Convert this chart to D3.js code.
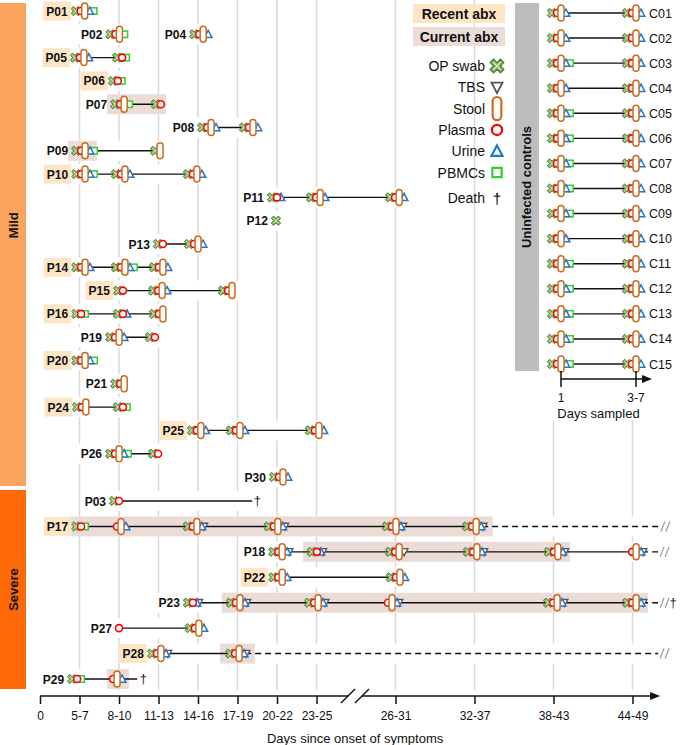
<!DOCTYPE html>
<html><head><meta charset="utf-8">
<script src="https://cdn.jsdelivr.net/npm/d3@7"></script>
<style>body{margin:0;background:#fff}svg{display:block;font-family:Arial,"Liberation Sans",sans-serif}</style>
</head><body>
<svg id="c" width="685" height="745"></svg>
<script>
// ---------- DATA ----------
const binLabels = ["0","5-7","8-10","11-13","14-16","17-19","20-22","23-25","26-31","32-37","38-43","44-49"];
const binPositions = [0,1,2,3,4,5,6,7,9,11,13,15];
const patientIds = ["P01","P02","P04","P05","P06","P07","P08","P09","P10","P11","P12","P13","P14","P15","P16","P19","P20","P21","P24","P25","P26","P30","P03","P17","P18","P22","P23","P27","P28","P29"];
const patientRows = [0,1,1,2,3,4,5,6,7,8,9,10,11,12,13,14,15,16,17,18,19,20,21,22,23,24,25,26,27,28];
const recentAbx = ["P01","P05","P06","P10","P14","P15","P16","P20","P24","P25","P17","P22","P28"];
// [patient, position on day axis, samples: O=OP swab P=plasma S=stool U=urine T=TBS B=PBMCs]
const samples = [
 ["P01",1.03,"OPSUB"],
 ["P02",1.91,"OPSB"],
 ["P04",4.03,"OPSU"],
 ["P05",1.01,"OPSU"],["P05",2.08,"OPB"],
 ["P06",1.97,"OPB"],
 ["P07",2.03,"OPSB"],["P07",3.06,"OP"],
 ["P08",4.23,"OPSU"],["P08",5.29,"OPSU"],
 ["P09",1.04,"OPSUB"],["P09",3.04,"OS"],
 ["P10",1.04,"OPSUB"],["P10",2.05,"OPSU"],["P10",3.87,"OPSU"],
 ["P11",6.0,"OPU"],["P11",6.99,"OPSU"],["P11",8.99,"OPSU"],
 ["P12",6.1,"O"],
 ["P13",3.11,"OP"],["P13",3.9,"OPSU"],
 ["P14",1.04,"OPSU"],["P14",2.05,"OPSUB"],["P14",3.01,"OPSU"],
 ["P15",2.1,"OP"],["P15",2.99,"OPSU"],["P15",4.76,"OPS"],
 ["P16",1.04,"OPB"],["P16",2.1,"OPU"],["P16",3.01,"OPS"],
 ["P19",1.9,"OPSU"],["P19",2.91,"OP"],
 ["P20",1.04,"OPSUB"],
 ["P21",2.03,"OPS"],
 ["P24",1.06,"OPS"],["P24",2.1,"OPB"],
 ["P25",3.97,"OPSU"],["P25",4.96,"OPSU"],["P25",6.96,"OPSU"],
 ["P26",1.9,"OPSUB"],["P26",2.99,"OP"],
 ["P30",6.05,"OPSU"],
 ["P03",2.0,"OP"],
 ["P17",1.04,"OPB"],["P17",1.95,"PSU"],["P17",3.87,"OPSUT"],["P17",5.92,"OPSUT"],["P17",8.91,"OPSUT"],["P17",10.94,"OPSUT"],
 ["P18",6.03,"OPSUT"],["P18",7.01,"OPUT"],["P18",8.99,"OPST"],["P18",10.96,"OPSUT"],["P18",13.01,"OPSUT"],["P18",14.99,"PSUT"],
 ["P22",6.03,"OPSU"],["P22",9.01,"OPSU"],
 ["P23",3.87,"OPUT"],["P23",4.96,"OPSUT"],["P23",6.94,"OPSUT"],["P23",8.81,"PSUT"],["P23",12.99,"OPSUT"],["P23",14.99,"OPSUT"],
 ["P27",2.0,"P"],["P27",3.92,"OPSU"],
 ["P28",2.96,"OPSUT"],["P28",4.94,"OPSUT"],
 ["P29",0.94,"OPB"],["P29",1.85,"PSU"]
];
const currentAbx = [["P07",1.70,3.19],["P09",0.71,1.44],["P17",0.75,11.46],["P18",6.66,13.42],["P23",4.6,15.39],["P28",4.56,5.44],["P29",1.70,2.25]];
const dashedTo = [["P17",15.65],["P18",15.65],["P23",15.65],["P28",15.65]];
const breakAt = [["P17",15.82],["P18",15.8],["P23",15.8],["P28",15.8]];
const solidTo = [["P03",5.37],["P29",2.46]];
const deaths = [["P03",5.5],["P29",2.62],["P23",16.03]];
const groups = [["Mild",0,20],["Severe",21,28]];
const controlIds = ["C01","C02","C03","C04","C05","C06","C07","C08","C09","C10","C11","C12","C13","C14","C15"];
const controlDays = ["1","3-7"];
const controlFirst = ["OPSU","OPSU","OPSUB","OPSU","OPSUB","OPSUB","OPSUB","OPSUB","OPSUB","OPSU","OPSUB","OPSUB","OPSUB","OPSUB","OPSUB"];
const controlSecond = ["OPSU","OPSU","OPSU","OPSU","OPSU","OPSU","OPSU","OPSU","OPSU","OPSU","OPSU","OPSU","OPSU","OPSU","OPSU"];
const legendItems = [["OP swab","O"],["TBS","T"],["Stool","S"],["Plasma","P"],["Urine","U"],["PBMCs","B"],["Death","D"]];
const abxLegend = ["Recent abx","Current abx"];

// ---------- STYLE ----------
const C = {mild:"#FBA45F", severe:"#FF6A08", recent:"#FDE5C6", current:"#EBDCD8", grid:"#D9D9D9",
  op:"#86B862", opS:"#4E7E33", plasma:"#FF0000", stool:"#CC6A1C", urine:"#1F77D0", tbs:"#555", pbmc:"#33CC33", panel:"#BDBDBD"};

const svg = d3.select("#c");
const x = d3.scaleLinear().domain([0,15]).range([40,632.5]);
const y = d3.scaleLinear().domain([0,20,21,28]).range([11,477,501,679]);
const xc = d3.scalePoint().domain(controlDays).range([561,636]);
const yc = d3.scalePoint().domain(controlIds).range([13,364]);
const rowOf = new Map(patientIds.map((p,i)=>[p,patientRows[i]]));
const lookup = arr => new Map(arr.map(d=>[d[0],d.slice(1)]));
const dashM = lookup(dashedTo), solidM = lookup(solidTo), deathM = lookup(deaths), breakM = lookup(breakAt);

const gGrid = svg.append("g"), gBand = svg.append("g"), gShade = svg.append("g"),
  gLines = svg.append("g"), gMark = svg.append("g"), gText = svg.append("g");

function layout(anchor, codes){
  const p = {}; let cur = anchor;
  if (codes.includes("O")) p.O = anchor - 5;
  if (codes.includes("P")) { p.P = cur; cur += 4; }
  if (codes.includes("S")) { p.S = cur; cur += 5; }
  const hu = codes.includes("U"), ht = codes.includes("T");
  if (hu || ht) { if (hu) p.U = cur; if (ht) p.T = cur + (hu ? 2 : 0); cur += 4 + (hu && ht ? 2 : 0); }
  if (codes.includes("B")) { p.B = cur; cur += 4; }
  let left = p.O !== undefined ? p.O - 5 : (p.P !== undefined ? p.P - 4 : (p.S !== undefined ? p.S - 3.5 : cur - 4));
  return {p, left, right: cur};
}
function marker(g, t, cx, cy, k){
  k = k || 1;
  const gg = g.append("g").attr("transform", `translate(${cx},${cy}) scale(${k})`);
  if (t === "O") {
    gg.append("path").attr("d", d3.symbol(d3.symbolCross, 55)()).attr("transform","rotate(45)")
      .attr("fill", C.op).attr("stroke", C.opS).attr("stroke-width", 0.9);
    gg.append("path").attr("d","M-2.6,-2.6L2.6,2.6M-2.6,2.6L2.6,-2.6").attr("stroke","#e8f3df").attr("stroke-width",0.7);
  }
  if (t === "P") gg.append("circle").attr("r", 3.5).attr("fill","#fff").attr("stroke",C.plasma).attr("stroke-width",1.6);
  if (t === "S") gg.append("rect").attr("x",-3).attr("y",-8).attr("width",6).attr("height",16).attr("rx",3)
     .attr("fill","#fff").attr("stroke",C.stool).attr("stroke-width",1.5);
  if (t === "U") gg.append("path").attr("d","M0,-4L3.8,3.2L-3.8,3.2Z").attr("fill","#fff").attr("stroke",C.urine).attr("stroke-width",1.5);
  if (t === "T") gg.append("path").attr("d","M-3.8,-3.2L3.8,-3.2L0,4Z").attr("fill","#fff").attr("stroke",C.tbs).attr("stroke-width",1.3);
  if (t === "B") gg.append("rect").attr("x",-3.2).attr("y",-3.2).attr("width",6.4).attr("height",6.4).attr("fill","#fff").attr("stroke",C.pbmc).attr("stroke-width",1.5);
  if (t === "D") gg.append("text").attr("text-anchor","middle").attr("y",5).attr("font-size",14).text("†");
}
function drawCluster(g, anchor, cy, codes){
  const L = layout(anchor, codes);
  ["O","B","T","U","P","S"].forEach(t => { if (L.p[t] !== undefined) marker(g, t, L.p[t], cy); });
  return L;
}

// ---------- GROUP BARS ----------
groups.forEach(([name, a, b]) => {
  const y0 = y(a) - (a === 0 ? 8 : 11), y1 = y(b) + (a === 0 ? 9 : 10);
  svg.insert("rect", ":first-child").attr("x",0).attr("y",y0).attr("width",26).attr("height",y1-y0).attr("fill", name==="Mild"?C.mild:C.severe);
  const cy = name === "Mild" ? y0 + (y1-y0)*0.46 : (y0+y1)/2;
  gText.append("text").attr("transform",`translate(18,${cy}) rotate(-90)`).attr("text-anchor","middle")
    .attr("font-size",13).attr("font-weight","bold").attr("fill","#111").text(name);
});

// ---------- GRID ----------
binPositions.filter(d=>d>0).forEach(d => {
  gGrid.append("line").attr("x1",x(d)).attr("x2",x(d)).attr("y1", d>=13 ? 420 : 0).attr("y2",690)
    .attr("stroke",C.grid).attr("stroke-width",1.5);
});

// ---------- PATIENT ROWS ----------
patientIds.forEach(id => {
  const cy = y(rowOf.get(id));
  const cl = samples.filter(s => s[0] === id);
  const anchors = cl.map(s => x(s[1]));
  const first = anchors[0], last = anchors[anchors.length-1];
  currentAbx.filter(c=>c[0]===id).forEach(c => gShade.append("rect").attr("x",x(c[1])).attr("y",cy-10)
    .attr("width",x(c[2])-x(c[1])).attr("height",20).attr("fill",C.current));
  let solidEnd = last;
  if (solidM.has(id)) solidEnd = x(solidM.get(id)[0]);
  if (solidEnd > first) gLines.append("line").attr("x1",first).attr("x2",solidEnd).attr("y1",cy).attr("y2",cy).attr("stroke","#111").attr("stroke-width",1.4);
  let right = 0;
  if (dashM.has(id)) {
    const xe = x(dashM.get(id)[0]);
    gLines.append("line").attr("x1",last).attr("x2",xe).attr("y1",cy).attr("y2",cy).attr("stroke","#111").attr("stroke-width",1.4).attr("stroke-dasharray","6,4");
    right = Math.max(right, xe);
  }
  if (breakM.has(id)) {
    const xb = x(breakM.get(id)[0]);
    [0,5].forEach(o => gLines.append("line").attr("x1",xb-4+o).attr("x2",xb+o).attr("y1",cy+5).attr("y2",cy-5).attr("stroke","#9a9a9a").attr("stroke-width",1.2));
    right = Math.max(right, xb + 7);
  }
  if (deathM.has(id)) {
    const xd = x(deathM.get(id)[0]);
    gText.append("text").attr("x",xd).attr("y",cy+4).attr("text-anchor","middle").attr("font-size",13).attr("fill","#222").text("†");
    right = Math.max(right, xd + 5);
  }
  right = Math.max(right, solidEnd);
  let leftMost = Infinity;
  cl.forEach((s,i) => { const L = drawCluster(gMark, anchors[i], cy, s[2]); leftMost = Math.min(leftMost, L.left); right = Math.max(right, L.right); });
  const lab = gText.append("text").attr("x", leftMost - 3).attr("y", cy+4.5).attr("text-anchor","end")
    .attr("font-size",12).attr("font-weight","bold").attr("fill","#111").text(id);
  const bb = lab.node().getBBox();
  if (recentAbx.includes(id)) gText.insert("rect","text").attr("x",bb.x-3).attr("y",cy-9.5).attr("width",bb.width+6).attr("height",19).attr("fill",C.recent);
  gBand.append("rect").attr("x",bb.x-3).attr("y",cy-10).attr("width",right+2-(bb.x-3)).attr("height",20).attr("fill","#fff");
});

// ---------- X AXIS ----------
const axisY = 696;
const ax = svg.append("g").attr("transform",`translate(0,${axisY})`)
  .call(d3.axisBottom(x).tickValues(binPositions).tickFormat((d,i)=>binLabels[i]).tickSize(8).tickPadding(7));
ax.select(".domain").remove();
ax.selectAll("line").attr("stroke","#111").attr("stroke-width",1.5);
ax.selectAll("text").attr("font-size",12).attr("fill","#111").attr("font-family","Arial, 'Liberation Sans', sans-serif");
const brk1 = (x(7)+x(9))/2 - 8, brk2 = (x(7)+x(9))/2 + 6;
[[x(0),brk1],[brk2,x(15.7)-6]].forEach(([a,b]) => svg.append("line").attr("x1",a).attr("x2",b).attr("y1",axisY).attr("y2",axisY).attr("stroke","#111").attr("stroke-width",1.5));
[brk1, brk2].forEach(b => svg.append("line").attr("x1",b-7).attr("x2",b+7).attr("y1",axisY+7).attr("y2",axisY-7).attr("stroke","#111").attr("stroke-width",1.5));
const tip = x(15.7);
svg.append("path").attr("d",`M${tip},${axisY}L${tip-10},${axisY-4}L${tip-10},${axisY+4}Z`).attr("fill","#111");
svg.append("text").attr("x",(x(0)+tip)/2+5).attr("y",743).attr("text-anchor","middle").attr("font-size",13).attr("fill","#111").text("Days since onset of symptoms");

// ---------- LEGEND ----------
abxLegend.forEach((t,i) => {
  svg.append("rect").attr("x",413).attr("y",4+23*i).attr("width",92).attr("height",19).attr("fill", i===0?C.recent:C.current);
  svg.append("text").attr("x",459).attr("y",19+23*i).attr("text-anchor","middle").attr("font-size",14).attr("font-weight","bold").attr("fill","#111").text(t);
});
legendItems.forEach(([name,t],i) => {
  const cy = i < 6 ? 66 + 21.3*i : 198;
  const tx = svg.append("text").attr("x",485).attr("y",cy+5).attr("text-anchor","end").attr("font-size",14).attr("fill","#111").text(name);
  const bb = tx.node().getBBox();
  svg.insert("rect","g").attr("x",bb.x-2).attr("y",cy-9).attr("width",bb.width+22).attr("height",18).attr("fill","#fff");
  marker(svg, t, 497, cy, t==="D"?1.1:1.45);
});

// ---------- CONTROLS ----------
svg.append("rect").attr("x",515).attr("y",3).attr("width",24).attr("height",368).attr("fill",C.panel);
svg.append("text").attr("transform","translate(531,187) rotate(-90)").attr("text-anchor","middle").attr("font-size",13).attr("font-weight","bold").attr("fill","#111").text("Uninfected controls");
const gc = svg.append("g");
controlIds.forEach((id,i) => {
  const cy = yc(id);
  const a1 = xc(controlDays[0]) - 4, a2 = xc(controlDays[1]) - 4;
  gc.append("line").attr("x1",a1).attr("x2",a2).attr("y1",cy).attr("y2",cy).attr("stroke","#111").attr("stroke-width",1.4);
  drawCluster(gc, a1, cy, controlFirst[i]);
  drawCluster(gc, a2, cy, controlSecond[i]);
  gc.append("text").attr("x",649).attr("y",cy+4.5).attr("font-size",12.5).attr("fill","#111").text(id);
});
const cAxY = 379;
svg.append("line").attr("x1",xc(controlDays[0])).attr("x2",644).attr("y1",cAxY).attr("y2",cAxY).attr("stroke","#111").attr("stroke-width",1.5);
svg.append("path").attr("d",`M652,${cAxY}L642,${cAxY-4}L642,${cAxY+4}Z`).attr("fill","#111");
controlDays.forEach(d => {
  svg.append("line").attr("x1",xc(d)).attr("x2",xc(d)).attr("y1",cAxY-8).attr("y2",cAxY+8).attr("stroke","#111").attr("stroke-width",1.5);
  svg.append("text").attr("x",xc(d)).attr("y",cAxY+23).attr("text-anchor","middle").attr("font-size",12).attr("fill","#111").text(d);
});
svg.append("text").attr("x",(xc(controlDays[0])+xc(controlDays[1]))/2).attr("y",418).attr("text-anchor","middle").attr("font-size",13).attr("fill","#111").text("Days sampled");
</script>
</body></html>
